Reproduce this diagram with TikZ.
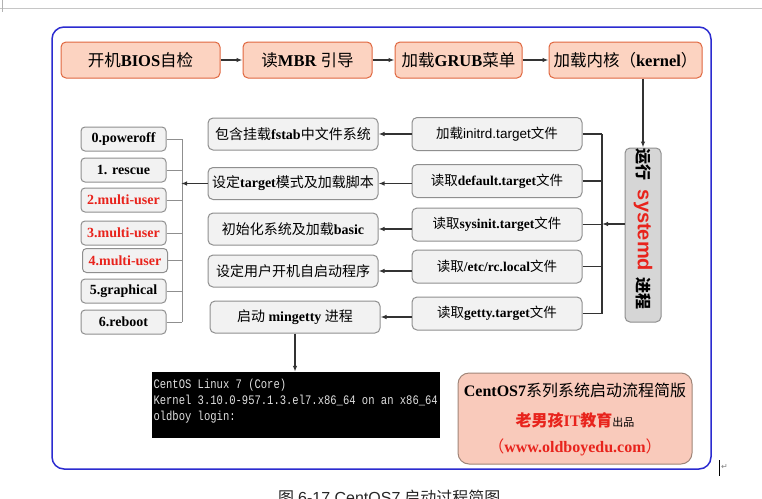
\documentclass[tikz,border=0pt]{standalone}
\usepackage{fontspec}
\setmainfont{Liberation Serif}
\newfontfamily\cjk{Noto Sans CJK SC}
\newfontfamily\arialf{Liberation Sans}
\newfontfamily\monof[FakeStretch=0.81]{Liberation Mono}
\newfontfamily\dejavu{DejaVu Sans}
\usetikzlibrary{arrows.meta}
\newcommand\zh[1]{{\cjk\mdseries #1}}
\newcommand\zhb[1]{{\cjk\bfseries #1}}
\definecolor{outerblue}{HTML}{2B2BD0}
\definecolor{peachfill}{HTML}{FCD3C1}
\definecolor{peachdraw}{HTML}{E0673F}
\definecolor{grayfill}{HTML}{F2F2F2}
\definecolor{graydraw}{HTML}{8F8F8F}
\definecolor{sdfill}{HTML}{D6D6D6}
\definecolor{redtxt}{HTML}{E8231C}
\definecolor{linecol}{HTML}{333333}
\definecolor{brfill}{HTML}{F9CABB}
\definecolor{brdraw}{HTML}{A08578}
\tikzset{
  topbox/.style={draw=peachdraw, fill=peachfill, rounded corners=5pt, line width=1pt,
    minimum height=36pt, inner sep=0pt, font=\fontsize{16.5}{18}\selectfont\bfseries},
  midbox/.style={draw=graydraw, fill=grayfill, rounded corners=5pt, line width=1pt,
    minimum width=170pt, minimum height=32pt, inner sep=0pt, font=\fontsize{14}{16}\selectfont\bfseries},
  rightbox/.style={draw=graydraw, fill=grayfill, rounded corners=5pt, line width=1pt,
    minimum width=170pt, minimum height=33pt, inner sep=0pt, font=\fontsize{13.5}{16}\selectfont\bfseries},
  leftbox/.style={draw=graydraw, fill=grayfill, rounded corners=4pt, line width=1pt,
    minimum width=85pt, minimum height=24pt, inner sep=0pt, font=\fontsize{14}{16}\selectfont\bfseries},
  redlbl/.style={text=redtxt},
  arr/.style={-{Latex[length=6pt,width=4.5pt]}, line width=1.2pt, draw=linecol},
  busline/.style={line width=1.2pt, draw=linecol},
  brkline/.style={line width=1pt, draw=graydraw},
}
\begin{document}
\begin{tikzpicture}[x=1pt,y=-1pt]
\useasboundingbox (0,0) rectangle (762,498);
\fill[white] (0,0) rectangle (762,498);
% page artefacts
\draw[gray!45, line width=1pt] (0,8) -- (762,8);
\draw[gray!60, line width=0.8pt] (2,0) -- (2,12);
\draw[black, line width=1pt] (719,460) -- (719,476);
\node[text=gray, font=\dejavu\fontsize{8}{9}\selectfont, anchor=west, inner sep=0pt] (ret) at (721,467) {↵};
\begin{scope}
  \clip (0,0) rectangle (762,498);
  \node[anchor=base west, inner sep=0pt, text=black!85, font=\fontsize{16}{18}\selectfont] (cap) at (278,503)
    {\zh{图} {\arialf 6-17 CentOS7} \zh{启动过程简图}};
\end{scope}
% outer frame
\node[draw=outerblue, line width=1.5pt, rounded corners=12pt, minimum width=659pt, minimum height=442pt, inner sep=0pt] (frame) at (381.5,248) {};
% top row
\node[topbox, minimum width=159pt] (b1) at (140.5,60) {\zh{开机}BIOS\zh{自检}};
\node[topbox, minimum width=129pt] (b2) at (307.5,60) {\zh{读}MBR \zh{引导}};
\node[topbox, minimum width=127pt] (b3) at (458.5,60) {\zh{加载}GRUB\zh{菜单}};
\node[topbox, minimum width=153pt] (b4) at (625.5,60) {\zh{加载内核（}kernel\zh{）}};
\draw[arr] (b1) -- (b2);
\draw[arr] (b2) -- (b3);
\draw[arr] (b3) -- (b4);
% systemd
\node[draw=graydraw, fill=sdfill, rounded corners=5pt, line width=1pt, minimum width=36pt, minimum height=174pt, inner sep=0pt] (sd) at (643,235) {};
\node[rotate=-90, inner sep=0pt, font=\fontsize{16}{18}\selectfont\bfseries] (sdt) at (643,229)
  {\zhb{运行}\hspace{9pt}{\arialf\bfseries\fontsize{20}{22}\selectfont\color{redtxt}systemd}\hspace{6pt}\zhb{进程}};
\draw[arr] (sd.north |- b4.south) -- (sd.north);
% right column
\node[rightbox] (r1) at (497,134) {\mdseries\zh{加载}{\arialf initrd.target}\zh{文件}};
\node[rightbox] (r2) at (497,181) {\zh{读取}default.target\zh{文件}};
\node[rightbox] (r3) at (497,224.5) {\zh{读取}sysinit.target\zh{文件}};
\node[rightbox] (r4) at (497,266.5) {\zh{读取}/etc/rc.local\zh{文件}};
\node[rightbox] (r5) at (497,313.5) {\zh{读取}getty.target\zh{文件}};
\coordinate (bus) at (602,224);
\draw[busline] (bus |- r1.east) -- (bus |- r5.east);
\foreach \r in {r1,r2,r3,r4,r5} { \draw[busline] (\r.east) -- (\r.east -| bus); }
\draw[arr] (sd.west |- bus) -- (bus);
% middle column
\node[midbox] (m1) at (293,134) {\zh{包含挂载}fstab\zh{中文件系统}};
\node[midbox] (m2) at (293,183.5) {\zh{设定}target\zh{模式及加载脚本}};
\node[midbox] (m3) at (293,229) {\zh{初始化系统及加载}basic};
\node[midbox] (m4) at (293,271) {\zh{设定用户开机自启动程序}};
\node[midbox] (m5) at (295,317) {\zh{启动} mingetty \zh{进程}};
\draw[arr] (r1.west |- m1.east) -- (m1.east);
\draw[arr] (r2.west |- m2.east) -- (m2.east);
\draw[arr] (r3.west |- m3.east) -- (m3.east);
\draw[arr] (r4.west |- m4.east) -- (m4.east);
\draw[arr] (r5.west |- m5.east) -- (m5.east);
% left column
\node[leftbox] (l0) at (123.5,139) {0.poweroff};
\node[leftbox] (l1) at (123.5,170) {1. rescue};
\node[leftbox, redlbl] (l2) at (123.5,200) {2.multi-user};
\node[leftbox, redlbl] (l3) at (123.5,233) {3.multi-user};
\node[leftbox, redlbl] (l4) at (125,260.5) {4.multi-user};
\node[leftbox] (l5) at (123.5,291) {5.graphical};
\node[leftbox] (l6) at (123.5,322) {6.reboot};
\coordinate (brx) at (182,0);
\draw[brkline] (brx |- l0.east) -- (brx |- l6.east);
\foreach \l in {l0,l1,l2,l3,l4,l5,l6} { \draw[brkline] (\l.east) -- (\l.east -| brx); }
\draw[arr, shorten >=-1pt] (m2.west) -- (m2.west -| brx);
% terminal
\node[fill=black, minimum width=288pt, minimum height=66pt, inner sep=0pt] (term) at (296,405) {};
\node[anchor=west, align=left, inner sep=0pt, text=white!88!black, font=\monof\fontsize{13}{16}\selectfont] (termtxt) at ([xshift=1.5pt, yshift=4pt]term.west)
  {CentOS Linux 7 (Core)\\Kernel 3.10.0-957.1.3.el7.x86\_64 on an x86\_64\\oldboy login:};
\draw[arr] (m5.south) -- (m5.south |- term.north);
% brand box
\node[draw=brdraw, fill=brfill, line width=1pt, rounded corners=11pt, minimum width=234pt, minimum height=91pt, inner sep=0pt] (brand) at (575,418.5) {};
\node[inner sep=0pt, font=\fontsize{16}{18}\selectfont\bfseries] (brand1) at (575,390) {CentOS7\zh{系列系统启动流程简版}};
\node[inner sep=0pt, font=\fontsize{16}{18}\selectfont\bfseries] (brand2) at (575,420) {{\color{redtxt}\zhb{老男孩}IT\zhb{教育}}{\fontsize{11}{13}\selectfont\zh{出品}}};
\node[inner sep=0pt, text=redtxt, font=\fontsize{16}{18}\selectfont\bfseries] (brand3) at (575,447) {\zh{（}www.oldboyedu.com\zh{）}};
\end{tikzpicture}
\end{document}
